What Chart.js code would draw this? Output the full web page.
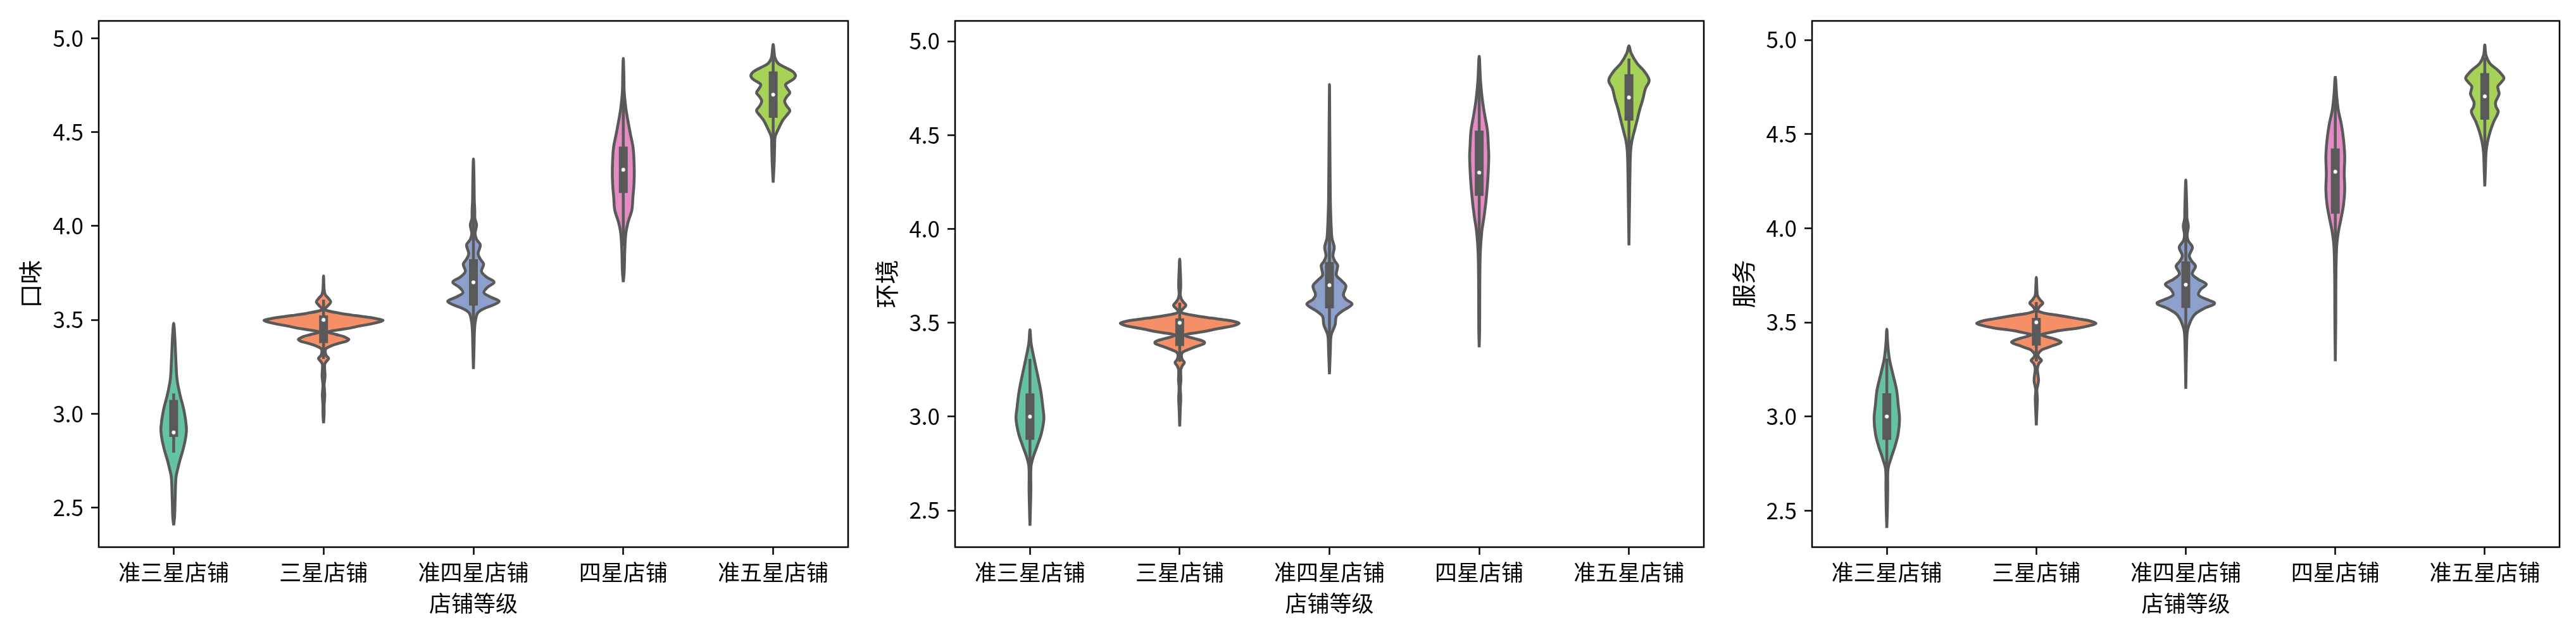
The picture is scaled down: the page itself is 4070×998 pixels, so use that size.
<!DOCTYPE html>
<html lang="zh">
<head>
<meta charset="UTF-8">
<title>店铺等级 小提琴图</title>
<script src="https://cdn.jsdelivr.net/npm/chart.js@4"></script>
<style>
  body { margin: 0; width: 4070px; height: 998px; background: #fff; position: relative; overflow: hidden; }
  canvas { position: absolute; top: 0; }
</style>
</head>
<body>
<canvas id="taste" width="1350" height="998" style="left:0px"></canvas>
<canvas id="env" width="1349" height="998" style="left:1353px"></canvas>
<canvas id="service" width="1347" height="998" style="left:2707px"></canvas>
<script>
// categories and tick values
const categories = ['准三星店铺', '三星店铺', '准四星店铺', '四星店铺', '准五星店铺'];
const yTickValues = [2.5, 3.0, 3.5, 4.0, 4.5, 5.0];
const xTitle = '店铺等级';

// violin outlines: [score, half width in category units], bottom to top
const taste1 = [[2.405,0],[2.45,.006],[2.549,.010],[2.661,.0155],[2.705,.027],[2.750,.041],[2.816,.065],[2.883,.082],[2.927,.085],[3.016,.069],[3.105,.041],[3.183,.0225],[3.272,.0155],[3.372,.010],[3.43,.006],[3.482,0]];
const taste2 = [[2.949,0],[3.00,.004],[3.044,.004],[3.100,.008],[3.155,.004],[3.200,.010],[3.261,.007],[3.277,.017],[3.294,.034],[3.311,.017],[3.338,.011],[3.350,.021],[3.363,.056],[3.376,.106],[3.387,.155],[3.395,.168],[3.400,.162],[3.411,.134],[3.422,.085],[3.435,.030],[3.445,.085],[3.456,.175],[3.467,.239],[3.478,.315],[3.489,.373],[3.497,.397],[3.503,.373],[3.512,.315],[3.523,.211],[3.536,.104],[3.551,.017],[3.560,.011],[3.577,.031],[3.596,.048],[3.616,.031],[3.635,.011],[3.662,.004],[3.734,0]];
const taste3 = [[3.238,0],[3.35,.004],[3.442,.007],[3.498,.014],[3.537,.029],[3.560,.071],[3.583,.143],[3.600,.171],[3.622,.114],[3.645,.070],[3.673,.093],[3.701,.138],[3.729,.086],[3.758,.054],[3.797,.068],[3.825,.045],[3.854,.031],[3.899,.046],[3.930,.020],[3.961,.011],[4.006,.021],[4.04,.010],[4.085,.009],[4.131,.006],[4.25,.004],[4.357,0]];
const taste4 = [[3.701,0],[3.758,.006],[3.871,.010],[3.961,.017],[4.018,.031],[4.085,.057],[4.153,.064],[4.221,.071],[4.300,.073],[4.413,.066],[4.492,.047],[4.560,.031],[4.628,.017],[4.718,.006],[4.80,.004],[4.893,0]];
const taste5 = [[4.231,0],[4.342,.007],[4.431,.010],[4.476,.013],[4.521,.037],[4.565,.065],[4.587,.087],[4.615,.111],[4.640,.090],[4.665,.076],[4.688,.090],[4.710,.111],[4.732,.095],[4.754,.083],[4.782,.134],[4.801,.149],[4.822,.132],[4.844,.083],[4.866,.034],[4.895,.012],[4.922,.007],[4.967,0]];

const env1 = [[2.419,0],[2.499,.003],[2.610,.006],[2.733,.007],[2.788,.023],[2.843,.048],[2.910,.076],[2.988,.093],[3.044,.087],[3.133,.073],[3.222,.051],[3.311,.027],[3.389,.008],[3.463,0]];
const env2 = [[2.948,0],[3.042,.004],[3.098,.007],[3.154,.004],[3.193,.008],[3.249,.007],[3.271,.017],[3.288,.031],[3.305,.017],[3.327,.011],[3.344,.021],[3.357,.056],[3.372,.106],[3.386,.155],[3.394,.166],[3.403,.155],[3.416,.099],[3.427,.049],[3.435,.034],[3.444,.085],[3.455,.175],[3.466,.239],[3.477,.315],[3.488,.373],[3.497,.397],[3.505,.373],[3.514,.315],[3.525,.211],[3.538,.104],[3.553,.017],[3.564,.011],[3.577,.025],[3.593,.041],[3.610,.025],[3.627,.011],[3.649,.004],[3.699,.007],[3.777,.004],[3.839,0]];
const env3 = [[3.226,0],[3.352,.006],[3.421,.009],[3.444,.015],[3.490,.038],[3.534,.046],[3.563,.087],[3.599,.151],[3.625,.110],[3.650,.093],[3.696,.110],[3.725,.080],[3.754,.046],[3.805,.055],[3.830,.035],[3.857,.023],[3.903,.032],[3.949,.017],[4.006,.012],[4.064,.009],[4.155,.006],[4.45,.003],[4.769,0]];
const env4 = [[3.369,0],[3.466,.003],[3.696,.004],[3.868,.007],[3.983,.017],[4.063,.032],[4.155,.046],[4.270,.058],[4.385,.064],[4.442,.061],[4.523,.055],[4.615,.035],[4.695,.020],[4.787,.009],[4.919,0]];
const env5 = [[3.912,0],[4.135,.004],[4.302,.007],[4.413,.011],[4.469,.020],[4.524,.037],[4.580,.055],[4.636,.072],[4.692,.093],[4.747,.110],[4.792,.135],[4.842,.100],[4.881,.055],[4.937,.014],[4.976,0]];

const service1 = [[2.408,0],[2.508,.004],[2.619,.006],[2.719,.008],[2.775,.027],[2.842,.055],[2.908,.076],[2.986,.085],[3.064,.076],[3.142,.065],[3.230,.039],[3.308,.017],[3.386,.006],[3.464,0]];
const service2 = [[2.953,0],[3.030,.004],[3.097,.007],[3.142,.004],[3.192,.015],[3.253,.007],[3.281,.017],[3.297,.035],[3.314,.017],[3.330,.011],[3.353,.035],[3.364,.070],[3.373,.099],[3.384,.141],[3.395,.166],[3.406,.141],[3.417,.099],[3.428,.049],[3.435,.034],[3.441,.063],[3.456,.155],[3.470,.282],[3.483,.359],[3.494,.399],[3.506,.366],[3.519,.282],[3.538,.141],[3.546,.070],[3.558,.017],[3.569,.011],[3.586,.025],[3.603,.044],[3.620,.025],[3.642,.008],[3.675,.004],[3.739,0]];
const service3 = [[3.147,0],[3.394,.006],[3.455,.011],[3.495,.026],[3.523,.043],[3.545,.064],[3.573,.121],[3.601,.193],[3.625,.130],[3.646,.085],[3.675,.100],[3.702,.137],[3.730,.080],[3.758,.043],[3.798,.065],[3.825,.040],[3.854,.023],[3.899,.044],[3.935,.015],[3.966,.009],[4.011,.017],[4.05,.008],[4.089,.007],[4.179,.004],[4.256,0]];
const service4 = [[3.293,0],[3.506,.003],[3.730,.004],[3.899,.009],[3.977,.020],[4.045,.037],[4.123,.055],[4.202,.063],[4.292,.060],[4.381,.063],[4.471,.055],[4.550,.041],[4.628,.020],[4.707,.009],[4.802,0]];
const service5 = [[4.222,0],[4.308,.004],[4.397,.008],[4.453,.017],[4.508,.034],[4.564,.059],[4.619,.090],[4.645,.075],[4.669,.072],[4.692,.085],[4.714,.096],[4.735,.090],[4.753,.087],[4.775,.110],[4.797,.128],[4.820,.110],[4.842,.083],[4.875,.034],[4.919,.008],[4.973,0]];

// inner box: [whisker low, q1, median, q3, whisker high]
const tasteBoxes = [[2.8,2.9,2.9,3.05,3.1],[3.3,3.4,3.5,3.5,3.6],[3.3,3.6,3.7,3.8,4.1],[3.9,4.2,4.3,4.4,4.7],[4.4,4.6,4.7,4.8,4.9]];
const envBoxes = [[2.7,2.9,3.0,3.1,3.3],[3.3,3.4,3.5,3.5,3.6],[3.3,3.6,3.7,3.8,4.1],[3.8,4.2,4.3,4.5,4.9],[4.4,4.6,4.7,4.8,4.9]];
const serviceBoxes = [[2.7,2.9,3.0,3.1,3.3],[3.3,3.4,3.5,3.5,3.6],[3.3,3.6,3.7,3.8,4.1],[3.7,4.1,4.3,4.4,4.8],[4.4,4.6,4.7,4.8,4.9]];

const fills = ['#66c2a5', '#f58f68', '#8da0cb', '#e38bc2', '#a6d257'];
const gray = '#595959';

Chart.defaults.font.family = '"Noto Sans CJK SC", "DejaVu Sans", sans-serif';
Chart.defaults.font.size = 35;
Chart.defaults.color = '#000';

const framePlugin = {
  id: 'frame',
  afterDatasetsDraw(chart) {
    const {ctx, chartArea: a} = chart;
    ctx.save();
    ctx.strokeStyle = '#000';
    ctx.lineWidth = 2.5;
    ctx.strokeRect(a.left, a.top, a.right - a.left, a.bottom - a.top);
    ctx.restore();
  }
};

function outline(profile, i) {
  const right = profile.map(([v, w]) => ({x: i + w, y: v}));
  const left = profile.slice(0, -1).reverse().map(([v, w]) => ({x: i - w, y: v}));
  return right.concat(left);
}

function buildDatasets(violins, boxes) {
  const ds = [];
  violins.forEach((prof, i) => {
    const [lo, q1, med, q3, hi] = boxes[i];
    ds.push({type: 'line', data: outline(prof, i), order: 3, fill: 'shape',
      backgroundColor: fills[i], borderColor: gray, borderWidth: 4.5,
      tension: 0.35, pointRadius: 0, borderJoinStyle: 'round'});
    ds.push({type: 'line', data: [{x: i, y: lo}, {x: i, y: hi}], order: 2,
      borderColor: gray, borderWidth: 4.5, borderCapStyle: 'square', pointRadius: 0, fill: false});
    ds.push({type: 'line', data: [{x: i, y: q1}, {x: i, y: q3}], order: 1,
      borderColor: gray, borderWidth: 14, borderCapStyle: 'square', pointRadius: 0, fill: false});
    ds.push({type: 'scatter', data: [{x: i, y: med}], order: 0,
      pointRadius: 3.6, pointBackgroundColor: '#fff', pointBorderColor: gray, pointBorderWidth: 1});
  });
  return ds;
}

const tickGrid = {drawOnChartArea: false, drawTicks: true, tickLength: 12, tickWidth: 2.5, tickColor: '#000'};

function makeChart(id, title, violins, boxes, yMin, yMax) {
  new Chart(document.getElementById(id), {
    type: 'scatter',
    data: {datasets: buildDatasets(violins, boxes)},
    options: {
      responsive: false,
      animation: false,
      devicePixelRatio: 1,
      layout: {padding: {top: 25, right: 10, bottom: 0, left: 0}},
      plugins: {legend: {display: false}, tooltip: {enabled: false}},
      scales: {
        x: {
          type: 'linear', min: -0.5, max: 4.5,
          afterBuildTicks: s => { s.ticks = categories.map((c, i) => ({value: i})); },
          afterFit: s => { s.height = 134; },
          ticks: {callback: v => categories[v], padding: 7, maxRotation: 0, autoSkip: false, color: '#000'},
          grid: tickGrid,
          border: {display: false},
          title: {display: true, text: xTitle, color: '#000', padding: {top: 0, bottom: 24}}
        },
        y: {
          type: 'linear', min: yMin, max: yMax,
          afterBuildTicks: s => { s.ticks = yTickValues.map(v => ({value: v})); },
          afterFit: s => { s.width = 156; },
          ticks: {callback: v => v.toFixed(1), padding: 12, color: '#000'},
          grid: tickGrid,
          border: {display: false},
          title: {display: true, text: title, color: '#000', font: {size: 38}, padding: {top: 25, bottom: 0}}
        }
      }
    },
    plugins: [framePlugin]
  });
}

makeChart('taste', '口味', [taste1, taste2, taste3, taste4, taste5], tasteBoxes, 2.289, 5.093);
makeChart('env', '环境', [env1, env2, env3, env4, env5], envBoxes, 2.305, 5.108);
makeChart('service', '服务', [service1, service2, service3, service4, service5], serviceBoxes, 2.306, 5.101);
</script>
</body>
</html>
